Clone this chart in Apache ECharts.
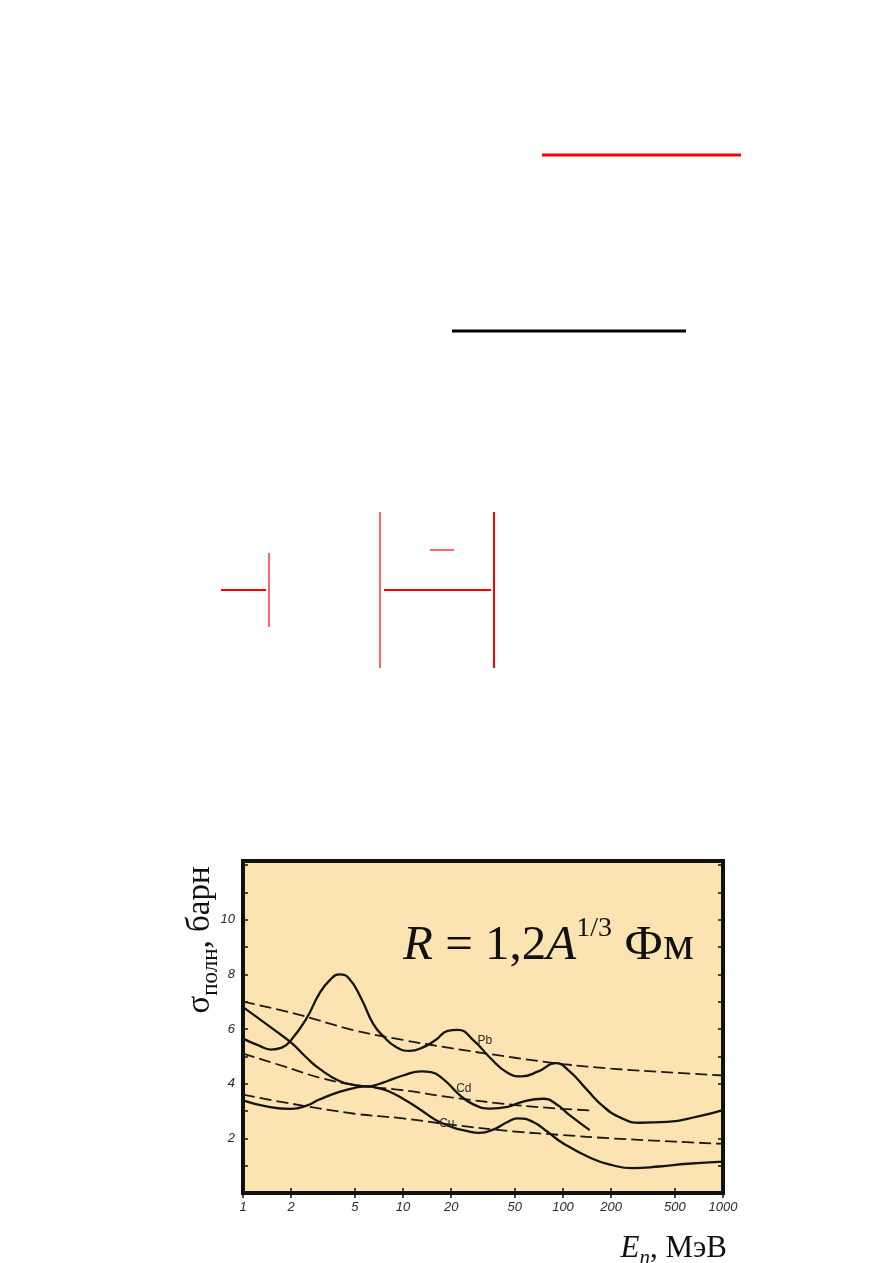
<!DOCTYPE html>
<html>
<head>
<meta charset="utf-8">
<script src="https://cdn.jsdelivr.net/npm/echarts@6.0.0/dist/echarts.min.js"></script>
<style>
  html, body { margin: 0; padding: 0; background: #ffffff; }
  #chart { width: 893px; height: 1263px; }
</style>
</head>
<body>
<div id="chart"></div>
<script>
// ---- data (energy in MeV, cross-section in barn) ----
const xTicks = [1, 2, 5, 10, 20, 50, 100, 200, 500, 1000];
const yLabels = [2, 4, 6, 8, 10];

const pbE = [1, 1.25, 1.5, 1.75, 2, 2.5, 3, 3.5, 4, 4.6, 5.5, 6.5, 7.5, 9, 11, 13, 16, 19, 22, 28, 35, 45, 55, 70, 90, 110, 140, 180, 230, 300, 450, 700, 1000];
const pbS = [5.65, 5.4, 5.25, 5.32, 5.6, 6.4, 7.3, 7.8, 8.0, 7.85, 7.1, 6.2, 5.75, 5.35, 5.2, 5.3, 5.6, 5.93, 5.97, 5.55, 4.95, 4.4, 4.27, 4.45, 4.75, 4.45, 3.8, 3.15, 2.75, 2.57, 2.6, 2.8, 3.03];

const cdE = [1, 1.5, 2, 2.5, 3, 4, 5, 6, 7, 8, 10, 13, 15, 18, 22, 27, 35, 45, 55, 75, 90, 110, 147];
const cdS = [6.8, 6.05, 5.5, 4.95, 4.55, 4.1, 3.95, 3.9, 3.98, 4.1, 4.3, 4.45, 4.42, 4.15, 3.65, 3.27, 3.09, 3.15, 3.33, 3.45, 3.27, 2.85, 2.3];

const cuE = [1, 1.4, 2, 2.5, 3, 4, 5, 6, 7, 8, 10, 13, 16, 20, 25, 30, 37, 45, 52, 65, 80, 100, 150, 200, 270, 400, 600, 1000];
const cuS = [3.39, 3.17, 3.08, 3.2, 3.42, 3.7, 3.85, 3.9, 3.84, 3.74, 3.45, 3.03, 2.67, 2.42, 2.27, 2.2, 2.33, 2.6, 2.73, 2.6, 2.24, 1.82, 1.27, 1.03, 0.91, 0.97, 1.07, 1.15];

const d1E = [1, 2, 5, 10, 20, 50, 100, 200, 500, 1000];
const d1S = [7.0, 6.6, 5.95, 5.6, 5.3, 4.95, 4.72, 4.55, 4.4, 4.3];
const d2E = [1, 2, 3, 5, 10, 20, 50, 100, 150];
const d2S = [5.1, 4.55, 4.22, 3.95, 3.76, 3.5, 3.22, 3.08, 3.02];
const d3E = [1, 2, 5, 10, 20, 50, 100, 200, 500, 1000];
const d3S = [3.6, 3.27, 2.9, 2.73, 2.5, 2.25, 2.12, 2.0, 1.88, 1.8];

const labelNames = ['Pb', 'Cd', 'Cu'];
const labelE = [32.5, 24, 18.8];
const labelS = [5.57, 3.81, 2.53];

// ---- helpers ----
const zip = (xs, ys) => xs.map((x, i) => [x, ys[i]]);
const SERIF = '"Liberation Serif", "Times New Roman", serif';
const SANS = '"Liberation Sans", Arial, sans-serif';

function solid(name, xs, ys, idx) {
  return {
    type: 'line', name, data: zip(xs, ys), smooth: 0.5, symbol: 'none',
    lineStyle: { color: '#151515', width: 2.3 },
    markPoint: {
      symbol: 'circle', symbolSize: 0,
      label: { show: true, position: 'inside', formatter: labelNames[idx], color: '#2a2a2a', fontSize: 12, fontFamily: SANS },
      data: [{ coord: [labelE[idx], labelS[idx]] }]
    }
  };
}
function dashed(name, xs, ys) {
  return {
    type: 'line', name, data: zip(xs, ys), smooth: 0.4, symbol: 'none',
    lineStyle: { color: '#1a1a1a', width: 1.8, type: [12, 5] }
  };
}

const chart = echarts.init(document.getElementById('chart'), null, { renderer: 'canvas' });

function redLine(x1, y1, x2, y2, w, c) {
  return { type: 'line', shape: { x1, y1, x2, y2 }, style: { stroke: c || '#ff0000', lineWidth: w }, silent: true };
}

const option = {
  backgroundColor: '#ffffff',
  animation: false,
  grid: {
    left: 243, top: 861, width: 480, height: 332,
    show: true, backgroundColor: '#fce4b2', borderColor: '#111111', borderWidth: 4
  },
  xAxis: [
    {
      type: 'log', logBase: 10, min: 1, max: 1000,
      axisLine: { show: false },
      splitLine: { show: false },
      axisTick: { show: true, inside: true, length: 5, customValues: xTicks, lineStyle: { color: '#111', width: 1.5 } },
      axisLabel: { show: true, customValues: xTicks, margin: 8, fontSize: 13, fontStyle: 'italic', color: '#2a2a2a', fontFamily: SANS,
        formatter: v => String(Math.round(v)) }
    },
    {
      type: 'log', logBase: 10, min: 1, max: 1000, position: 'top',
      axisLine: { show: false }, splitLine: { show: false },
      axisTick: { show: true, inside: true, length: 5, customValues: xTicks, lineStyle: { color: '#111', width: 1.5 } },
      axisLabel: { show: false }
    }
  ],
  yAxis: [
    {
      type: 'value', min: 0, max: 12.15, interval: 1,
      axisLine: { show: false }, splitLine: { show: false },
      axisTick: { show: true, inside: true, length: 5, lineStyle: { color: '#111', width: 1.5 } },
      axisLabel: { show: true, margin: 8, fontSize: 13, fontStyle: 'italic', color: '#2a2a2a', fontFamily: SANS,
        formatter: v => (yLabels.indexOf(v) >= 0 ? String(v) : '') }
    },
    {
      type: 'value', min: 0, max: 12.15, interval: 1, position: 'right',
      axisLine: { show: false }, splitLine: { show: false },
      axisTick: { show: true, inside: true, length: 5, lineStyle: { color: '#111', width: 1.5 } },
      axisLabel: { show: false }
    }
  ],
  series: [
    dashed('d1', d1E, d1S),
    dashed('d2', d2E, d2S),
    dashed('d3', d3E, d3S),
    solid('Pb', pbE, pbS, 0),
    solid('Cd', cdE, cdS, 1),
    solid('Cu', cuE, cuS, 2)
  ],
  graphic: [
    redLine(542, 155, 741, 155, 3),
    redLine(452, 331, 686, 331, 3, '#000000'),
    redLine(221, 590, 266, 590, 2.2),
    redLine(269, 553, 269, 627, 1.2),
    redLine(380, 512, 380, 668, 1.2),
    redLine(494, 512, 494, 668, 2),
    redLine(384, 590, 491, 590, 2.2),
    redLine(430, 550, 454, 550, 1.2),
    {
      type: 'text', x: 403, y: 946, z: 10,
      style: {
        text: '{i|R}{n| = 1,2}{i|A}{sup|1/3}{n| Фм}',
        align: 'left', verticalAlign: 'middle', fill: '#111',
        rich: {
          i: { fontFamily: SERIF, fontSize: 49, fontStyle: 'italic', lineHeight: 62, fill: '#111', verticalAlign: 'middle' },
          n: { fontFamily: SERIF, fontSize: 49, lineHeight: 62, fill: '#111', verticalAlign: 'middle' },
          sup: { fontFamily: SERIF, fontSize: 28, lineHeight: 28, fill: '#111', verticalAlign: 'top' }
        }
      }
    },
    {
      type: 'text', x: 201, y: 940, rotation: Math.PI / 2, z: 10,
      style: {
        text: '{s|σ}{sub|полн}{n|, барн}',
        align: 'center', verticalAlign: 'middle', fill: '#111',
        rich: {
          s: { fontFamily: SERIF, fontSize: 33, lineHeight: 34, fill: '#111', verticalAlign: 'top' },
          sub: { fontFamily: SERIF, fontSize: 23, lineHeight: 23, padding: [15, 0, 0, 0], fill: '#111', verticalAlign: 'top' },
          n: { fontFamily: SERIF, fontSize: 33, lineHeight: 34, fill: '#111', verticalAlign: 'top' }
        }
      }
    },
    {
      type: 'text', x: 727, y: 1249, z: 10,
      style: {
        text: '{i|E}{sub|n}{n|, МэВ}',
        align: 'right', verticalAlign: 'middle', fill: '#111',
        rich: {
          i: { fontFamily: SERIF, fontSize: 31, fontStyle: 'italic', lineHeight: 31, fill: '#111', verticalAlign: 'top' },
          sub: { fontFamily: SERIF, fontSize: 21, fontStyle: 'italic', lineHeight: 21, padding: [14, 0, 0, 0], fill: '#111', verticalAlign: 'top' },
          n: { fontFamily: SERIF, fontSize: 31, lineHeight: 31, fill: '#111', verticalAlign: 'top' }
        }
      }
    }
  ]
};
chart.setOption(option);
</script>
</body>
</html>
